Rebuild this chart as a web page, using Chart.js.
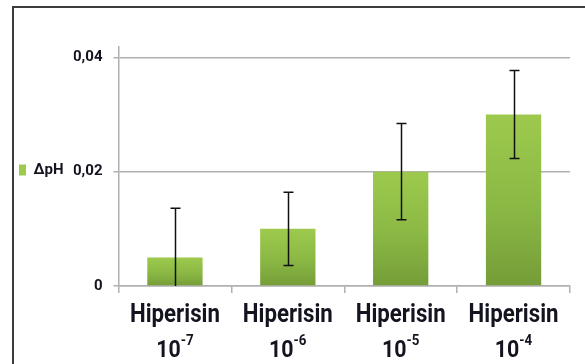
<!DOCTYPE html>
<html>
<head>
<meta charset="utf-8">
<script src="https://cdn.jsdelivr.net/npm/chart.js@4.4.1/dist/chart.umd.min.js"></script>
<style>
  html, body { margin: 0; padding: 0; background: #fff; }
  #wrap { position: relative; width: 585px; height: 364px; overflow: hidden; }
  #frame { position: absolute; left: 12px; top: 6px; width: 620px; height: 420px; border: 2px solid #3c3c3c; box-sizing: border-box; }
  canvas { position: absolute; left: 0; top: 0; }
</style>
</head>
<body>
<div id="wrap">
  <div id="frame"></div>
  <canvas id="phChart" width="585" height="364"></canvas>
</div>
<script>
// data
const categoryNames = ['Hiperisin', 'Hiperisin', 'Hiperisin', 'Hiperisin'];
const exponents = ['-7', '-6', '-5', '-4'];
const deltaPh = [0.005, 0.010, 0.020, 0.030];
const deltaPhError = [0.0086, 0.0064, 0.0084, 0.0077];
const yTicks = [0, 0.02, 0.04];
const yMax = 0.0418; // axis line runs a bit above the last label

const FONT = "Roboto, 'Liberation Sans', Arial, sans-serif";
const GRID = '#b0b0b0';
const TEXT = '#141420';

// gradient per bar, light at the top, darker at the base
function barFill(context) {
  const chart = context.chart;
  if (!chart.chartArea || context.type !== 'data') return '#86b344';
  const y = chart.scales.y;
  const top = y.getPixelForValue(context.raw);
  const bottom = y.getPixelForValue(0);
  const g = chart.ctx.createLinearGradient(0, top, 0, bottom);
  g.addColorStop(0, '#9dca4d');
  g.addColorStop(0.55, '#8ab844');
  g.addColorStop(1, '#759d38');
  return g;
}

// error bars drawn from the y scale
const errorBars = {
  id: 'errorBars',
  afterDatasetsDraw(chart) {
    const meta = chart.getDatasetMeta(0);
    const y = chart.scales.y;
    const c = chart.ctx;
    const area = chart.chartArea;
    c.save();
    c.strokeStyle = '#111';
    c.lineWidth = 1.5;
    meta.data.forEach((bar, i) => {
      const v = deltaPh[i];
      const e = deltaPhError[i];
      const hi = y.getPixelForValue(v + e);
      const loVal = v - e;
      const lo = Math.min(y.getPixelForValue(loVal), area.bottom);
      const x = Math.round(bar.x) + 0.5;
      c.beginPath();
      c.moveTo(x, hi);
      c.lineTo(x, lo);
      c.moveTo(x - 5, hi);
      c.lineTo(x + 5, hi);
      if (loVal > y.min) {
        c.moveTo(x - 5, lo);
        c.lineTo(x + 5, lo);
      }
      c.stroke();
    });
    c.restore();
  }
};

// two line category labels with a real superscript exponent
const categoryLabels = {
  id: 'categoryLabels',
  afterDraw(chart) {
    const xs = chart.scales.x;
    const c = chart.ctx;
    c.save();
    c.fillStyle = TEXT;
    c.textBaseline = 'alphabetic';
    categoryNames.forEach((name, i) => {
      const x = xs.getPixelForValue(i);
      c.save();
      c.translate(x, 0);
      c.scale(0.89, 1);
      c.textAlign = 'center';
      c.font = `bold 25px ${FONT}`;
      c.fillText(name, 0, 322);
      // 10 with exponent
      c.textAlign = 'left';
      c.font = `bold 24px ${FONT}`;
      const wBase = c.measureText('10').width;
      c.font = `bold 15px ${FONT}`;
      const wExp = c.measureText(exponents[i]).width;
      const start = -(wBase + wExp) / 2;
      c.font = `bold 24px ${FONT}`;
      c.fillText('10', start, 357);
      c.font = `bold 15px ${FONT}`;
      c.fillText(exponents[i], start + wBase, 345);
      c.restore();
    });
    c.restore();
  }
};

const ctx = document.getElementById('phChart').getContext('2d');

const phChart = new Chart(ctx, {
  type: 'bar',
  data: {
    labels: categoryNames.map((n, i) => `${n} 10${exponents[i]}`),
    datasets: [{
      label: 'ΔpH',
      data: deltaPh,
      backgroundColor: barFill,
      borderWidth: 0,
      categoryPercentage: 1,
      barPercentage: 0.49
    }]
  },
  options: {
    responsive: false,
    animation: false,
    devicePixelRatio: 1,
    layout: {
      padding: { left: 17, top: 47, right: 15, bottom: 71 }
    },
    scales: {
      x: {
        grid: {
          offset: true,
          drawOnChartArea: false,
          drawTicks: true,
          tickLength: 7,
          color: GRID,
          lineWidth: 1.5
        },
        border: { color: GRID, width: 1.5 },
        ticks: { display: false }
      },
      y: {
        min: 0,
        max: yMax,
        afterBuildTicks(scale) {
          scale.ticks = yTicks.map(v => ({ value: v }));
        },
        afterFit(scale) {
          scale.width = 45;
        },
        grid: {
          color: GRID,
          lineWidth: 1.5,
          tickLength: 5
        },
        border: { color: GRID, width: 1.5 },
        ticks: {
          color: TEXT,
          padding: 11,
          font: { family: FONT, size: 15, weight: 'bold' },
          callback: v => v === 0 ? '0' : v.toFixed(2).replace('.', ',')
        }
      }
    },
    plugins: {
      legend: {
        position: 'left',
        labels: {
          boxWidth: 7,
          boxHeight: 11,
          padding: 2,
          color: TEXT,
          font: { family: FONT, size: 15, weight: 'bold' }
        }
      },
      tooltip: { enabled: false }
    }
  },
  plugins: [errorBars, categoryLabels]
});
</script>
</body>
</html>
